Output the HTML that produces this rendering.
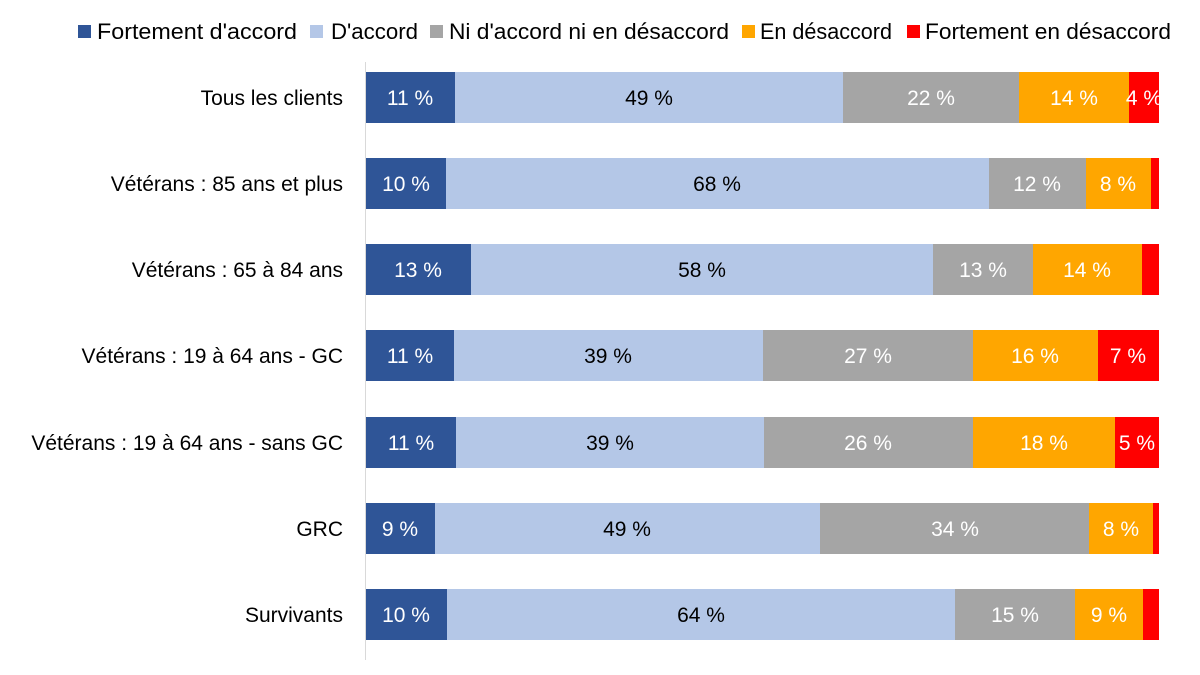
<!DOCTYPE html>
<html><head><meta charset="utf-8"><style>
body{margin:0;background:#fff}
svg{display:block;font-family:"Liberation Sans",Arial,sans-serif}
</style></head><body>
<svg width="1200" height="675" viewBox="0 0 1200 675">
<g font-size="22" fill="#000">
<rect x="78" y="25" width="13" height="13" fill="#2F5597"/><text x="97" y="39" textLength="200" lengthAdjust="spacingAndGlyphs">Fortement d'accord</text>
<rect x="310" y="25" width="13" height="13" fill="#B4C7E7"/><text x="331" y="39" textLength="87" lengthAdjust="spacingAndGlyphs">D'accord</text>
<rect x="430" y="25" width="13" height="13" fill="#A5A5A5"/><text x="449" y="39" textLength="280" lengthAdjust="spacingAndGlyphs">Ni d'accord ni en désaccord</text>
<rect x="742" y="25" width="13" height="13" fill="#FFA600"/><text x="760" y="39" textLength="132" lengthAdjust="spacingAndGlyphs">En désaccord</text>
<rect x="907" y="25" width="13" height="13" fill="#FF0000"/><text x="925" y="39" textLength="246" lengthAdjust="spacingAndGlyphs">Fortement en désaccord</text>
</g>
<line x1="365.5" y1="62" x2="365.5" y2="660" stroke="#D9D9D9"/>
<g font-size="21" text-anchor="end">
<text x="343" y="105">Tous les clients</text>
<text x="343" y="191">Vétérans : 85 ans et plus</text>
<text x="343" y="277">Vétérans : 65 à 84 ans</text>
<text x="343" y="363">Vétérans : 19 à 64 ans - GC</text>
<text x="343" y="450">Vétérans : 19 à 64 ans - sans GC</text>
<text x="343" y="536">GRC</text>
<text x="343" y="622">Survivants</text>
</g>
<g font-size="21" text-anchor="middle">
<rect x="366" y="72" width="89" height="51" fill="#2F5597"/><rect x="455" y="72" width="388" height="51" fill="#B4C7E7"/><rect x="843" y="72" width="176" height="51" fill="#A5A5A5"/><rect x="1019" y="72" width="110" height="51" fill="#FFA600"/><rect x="1129" y="72" width="30" height="51" fill="#FF0000"/>
<text x="410" y="105" fill="#fff">11 %</text><text x="649" y="105">49 %</text><text x="931" y="105" fill="#fff">22 %</text><text x="1074" y="105" fill="#fff">14 %</text><text x="1144" y="105" fill="#fff">4 %</text>

<rect x="366" y="158" width="80" height="51" fill="#2F5597"/><rect x="446" y="158" width="543" height="51" fill="#B4C7E7"/><rect x="989" y="158" width="97" height="51" fill="#A5A5A5"/><rect x="1086" y="158" width="65" height="51" fill="#FFA600"/><rect x="1151" y="158" width="8" height="51" fill="#FF0000"/>
<text x="406" y="191" fill="#fff">10 %</text><text x="717" y="191">68 %</text><text x="1037" y="191" fill="#fff">12 %</text><text x="1118" y="191" fill="#fff">8 %</text>

<rect x="366" y="244" width="105" height="51" fill="#2F5597"/><rect x="471" y="244" width="462" height="51" fill="#B4C7E7"/><rect x="933" y="244" width="100" height="51" fill="#A5A5A5"/><rect x="1033" y="244" width="109" height="51" fill="#FFA600"/><rect x="1142" y="244" width="17" height="51" fill="#FF0000"/>
<text x="418" y="277" fill="#fff">13 %</text><text x="702" y="277">58 %</text><text x="983" y="277" fill="#fff">13 %</text><text x="1087" y="277" fill="#fff">14 %</text>

<rect x="366" y="330" width="88" height="51" fill="#2F5597"/><rect x="454" y="330" width="309" height="51" fill="#B4C7E7"/><rect x="763" y="330" width="210" height="51" fill="#A5A5A5"/><rect x="973" y="330" width="125" height="51" fill="#FFA600"/><rect x="1098" y="330" width="61" height="51" fill="#FF0000"/>
<text x="410" y="363" fill="#fff">11 %</text><text x="608" y="363">39 %</text><text x="868" y="363" fill="#fff">27 %</text><text x="1035" y="363" fill="#fff">16 %</text><text x="1128" y="363" fill="#fff">7 %</text>

<rect x="366" y="417" width="90" height="51" fill="#2F5597"/><rect x="456" y="417" width="308" height="51" fill="#B4C7E7"/><rect x="764" y="417" width="209" height="51" fill="#A5A5A5"/><rect x="973" y="417" width="142" height="51" fill="#FFA600"/><rect x="1115" y="417" width="44" height="51" fill="#FF0000"/>
<text x="411" y="450" fill="#fff">11 %</text><text x="610" y="450">39 %</text><text x="868" y="450" fill="#fff">26 %</text><text x="1044" y="450" fill="#fff">18 %</text><text x="1137" y="450" fill="#fff">5 %</text>

<rect x="366" y="503" width="69" height="51" fill="#2F5597"/><rect x="435" y="503" width="385" height="51" fill="#B4C7E7"/><rect x="820" y="503" width="269" height="51" fill="#A5A5A5"/><rect x="1089" y="503" width="64" height="51" fill="#FFA600"/><rect x="1153" y="503" width="6" height="51" fill="#FF0000"/>
<text x="400" y="536" fill="#fff">9 %</text><text x="627" y="536">49 %</text><text x="955" y="536" fill="#fff">34 %</text><text x="1121" y="536" fill="#fff">8 %</text>

<rect x="366" y="589" width="81" height="51" fill="#2F5597"/><rect x="447" y="589" width="508" height="51" fill="#B4C7E7"/><rect x="955" y="589" width="120" height="51" fill="#A5A5A5"/><rect x="1075" y="589" width="68" height="51" fill="#FFA600"/><rect x="1143" y="589" width="16" height="51" fill="#FF0000"/>
<text x="406" y="622" fill="#fff">10 %</text><text x="701" y="622">64 %</text><text x="1015" y="622" fill="#fff">15 %</text><text x="1109" y="622" fill="#fff">9 %</text>
</g>
</svg>
</body></html>
